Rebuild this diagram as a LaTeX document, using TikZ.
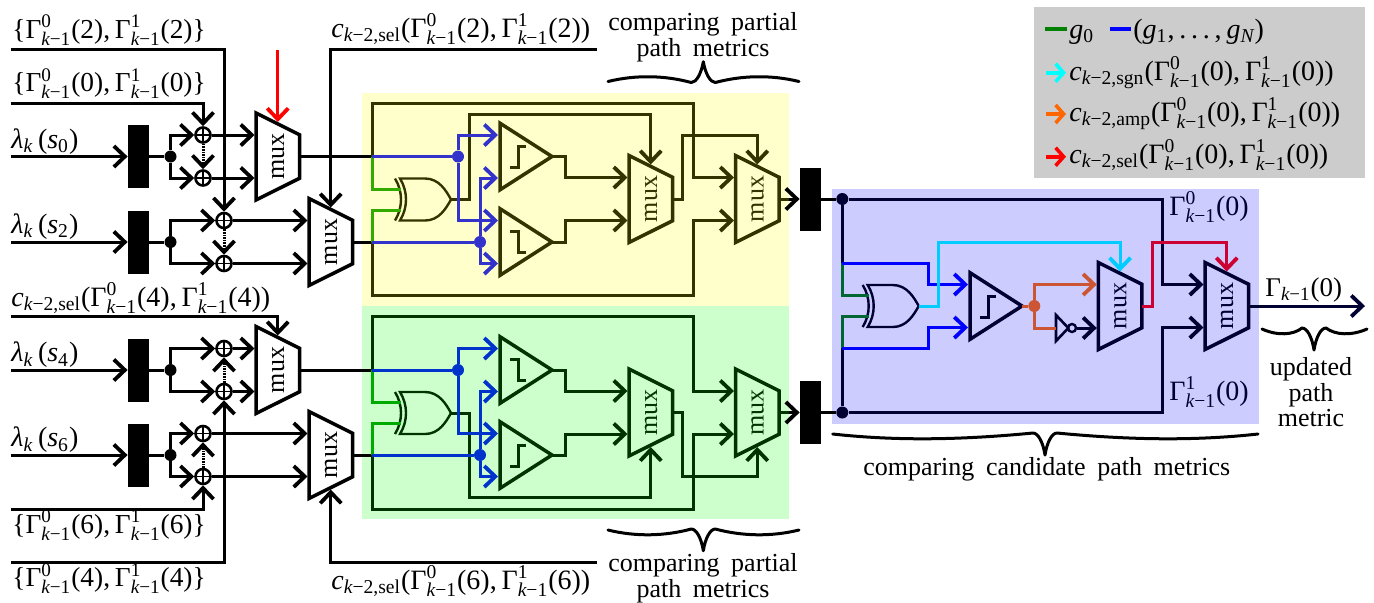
\documentclass[tikz,border=0pt]{standalone}
\usepackage[no-math]{fontspec}
\setmainfont{Liberation Serif}
\DeclareSymbolFont{operators}{TU}{\rmdefault}{m}{n}
\DeclareSymbolFont{letters}{TU}{\rmdefault}{m}{it}
\SetSymbolFont{operators}{bold}{TU}{\rmdefault}{m}{n}
\SetSymbolFont{letters}{bold}{TU}{\rmdefault}{m}{it}
\AtBeginDocument{%
 \Umathchardef\Gamma=0 \symoperators "0393
 \Umathchardef\lambda=0 \symletters "03BB
 \Umathchardef\lbr=4 \symoperators `\{
 \Umathchardef\rbr=5 \symoperators `\}
 \Umathcode`,="6 \symoperators `,
 \Umathcode`.="0 \symoperators `.
 \Umathcode`-="2 \symoperators "2212
 \Umathcode`(="4 \symoperators `(
 \Umathcode`)="5 \symoperators `)
 \Umathcode`0="0 \symoperators `0 \Umathcode`1="0 \symoperators `1 \Umathcode`2="0 \symoperators `2
 \Umathcode`4="0 \symoperators `4 \Umathcode`6="0 \symoperators `6
}
\usetikzlibrary{arrows.meta}
\definecolor{colYl}{HTML}{333300}\definecolor{colYb}{HTML}{3333CC}\definecolor{colYg}{HTML}{33AA00}
\definecolor{colGl}{HTML}{003300}\definecolor{colGb}{HTML}{0033CC}\definecolor{colGg}{HTML}{00AA00}
\definecolor{colBl}{HTML}{000033}\definecolor{colBb}{HTML}{0000FF}\definecolor{colBg}{HTML}{006633}
\definecolor{colCy}{HTML}{00CCFF}\definecolor{colOr}{HTML}{CC5533}\definecolor{colRd}{HTML}{CC0033}
\definecolor{panY}{HTML}{FFFFCC}\definecolor{panG}{HTML}{CCFFCC}\definecolor{panB}{HTML}{CCCCFF}\definecolor{panL}{HTML}{CCCCCC}
\definecolor{legG}{HTML}{008000}\definecolor{legC}{HTML}{00FFFF}\definecolor{legO}{HTML}{FF6600}\definecolor{legR}{HTML}{FF0000}
\tikzset{
 wire/.style={line width=1.5pt,line join=miter},
 arr/.style={wire,-{Straight Barb[length=5.5pt,width=10.5pt,line width=1.9pt]}},
 darr/.style={arr,dash pattern=on 0.8pt off 0.5pt},
 muxline/.style={line width=1.75pt,line join=miter},
 muxlabel/.style={rotate=90,inner sep=0pt,font=\fontsize{13}{13}\selectfont},
 label/.style={anchor=base west,inner sep=0pt,font=\fontsize{14}{14}\selectfont},
 sublabel/.style={label,font=\fontsize{13.7}{14}\selectfont},
 tlabel/.style={label,font=\fontsize{13}{13}\selectfont},
 clabel/.style={align=center,inner sep=0pt,font=\fontsize{13}{10.8}\selectfont},
 blackbox/.style={fill=black,draw=none,minimum width=10.5pt,minimum height=31.5pt,inner sep=0pt},
 jdot/.style={circle,fill=black,draw=none,minimum size=6pt,inner sep=0pt},
 adder/.style={circle,draw=black,line width=1.3pt,minimum size=7.5pt,inner sep=0pt,
   path picture={\draw[line width=0.9pt] (path picture bounding box.north)--(path picture bounding box.south)
   (path picture bounding box.west)--(path picture bounding box.east);}},
 bracel/.style={line width=1.5pt,line join=round,line cap=round},
 legarr/.style={line width=1.8pt,-{Straight Barb[length=4pt,width=9pt]}},
}
\newcommand{\muxn}[4]{%
 \node[muxlabel,text=#4] (#1) at (#2+22,#3) {mux};
 \draw[muxline,draw=#4] (#2,#3-43.5) -- (#2+43.5,#3-21.8) -- (#2+43.5,#3+21.8) -- (#2,#3+43.5) -- cycle;
 \coordinate (#1-a) at (#2-1.5,#3-21.5);
 \coordinate (#1-b) at (#2-1.5,#3+21.5);
 \coordinate (#1-o) at (#2+43.5,#3);
 \coordinate (#1-t) at (#2+21.75,#3-34.5);
 \coordinate (#1-u) at (#2+21.75,#3+34.5);
}
\newcommand{\cmpn}[5]{%
 \draw[muxline,draw=#4] (#2,#3-33.3) -- (#2+52,#3) -- (#2,#3+33.3) -- cycle;
 \draw[wire,draw=#4] (#2+10,#3+#5*11) -- (#2+18,#3+#5*11) -- (#2+18,#3-#5*10) -- (#2+26,#3-#5*10);
 \coordinate (#1-a) at (#2-2,#3-21.5);
 \coordinate (#1-b) at (#2-2,#3+21.5);
 \coordinate (#1-o) at (#2+52,#3);
}
\newcommand{\xorn}[4]{%
 \draw[line width=1.2pt,draw=#4] (#2,#3-21) .. controls (#2+8,#3-8) and (#2+8,#3+8) .. (#2,#3+21);
 \draw[line width=1.2pt,draw=#4] (#2+5,#3-21) .. controls (#2+13,#3-8) and (#2+13,#3+8) .. (#2+5,#3+21)
   -- (#2+30,#3+21) .. controls (#2+44,#3+21) and (#2+51,#3+9) .. (#2+56,#3)
   .. controls (#2+51,#3-9) and (#2+44,#3-21) .. (#2+30,#3-21) -- cycle;
 \coordinate (#1-a) at (#2+6,#3-10.5);
 \coordinate (#1-b) at (#2+6,#3+10.5);
 \coordinate (#1-o) at (#2+56,#3);
}
\newcommand{\bracen}[6]{%
 \draw[bracel] (#1,#4) .. controls ({#1+(#2-#1)*.3},#4+#6*7) and ({#2-(#2-#1)*.4},#4+#6*6) .. (#2-12,#4-#6*1)
  .. controls (#2-7,#4-#6*1) and (#2-2,#4+#6*8) .. (#2,#5)
  .. controls (#2+2,#4+#6*8) and (#2+7,#4-#6*1) .. (#2+12,#4-#6*1)
  .. controls ({#2+(#3-#2)*.4},#4+#6*6) and ({#3-(#3-#2)*.3},#4+#6*7) .. (#3,#4);
}
\newcommand{\Gm}[1]{\Gamma_{k-1}^{#1}}
\begin{document}
\begin{tikzpicture}[x=0.5pt,y=-0.5pt]
\useasboundingbox (0,0) rectangle (1374,602);
\fill[panY] (362,93) rectangle (789,306);
\fill[panG] (362,306) rectangle (789,519);
\fill[panB] (832.3,189) rectangle (1259,424);
\fill[panL] (1034,7.3) rectangle (1365,177.7);
\coordinate (inG2) at (11,49.5);
\coordinate (inG0) at (11,103);
\coordinate (inL0) at (11,156.5);
\coordinate (inL2) at (11,242);
\coordinate (inS4) at (11,316);
\coordinate (inL4) at (11,370);
\coordinate (inL6) at (11,455);
\coordinate (inG6) at (11,509);
\coordinate (inG4) at (11,562);
\coordinate (inS2) at (597,49.5);
\coordinate (inS6) at (597,562);
\coordinate (inR) at (277.75,50);
\coordinate (jy1) at (372,156.5);
\coordinate (jy2) at (372,242);
\coordinate (jg1) at (372,370);
\coordinate (jg2) at (372,455);
\coordinate (ey) at (789,199);
\coordinate (eg) at (789,412.5);
\coordinate (outR) at (1365,306);
\node[blackbox] (b0) at (138.5,156.5) {};
\node[blackbox] (b2) at (138.5,242) {};
\node[blackbox] (b4) at (138.5,370) {};
\node[blackbox] (b6) at (138.5,455) {};
\node[blackbox] (by) at (810.5,199) {};
\node[blackbox] (bg) at (810.5,412.5) {};
\node[jdot] (d0) at (170.5,156.5) {};
\node[jdot] (d2) at (170.5,242) {};
\node[jdot] (d4) at (170.5,370) {};
\node[jdot] (d6) at (170.5,455) {};
\node[adder] (c0a) at (203,135) {};
\node[adder] (c0b) at (203,178) {};
\node[adder] (c2a) at (224,220.5) {};
\node[adder] (c2b) at (224,263.5) {};
\node[adder] (c4a) at (224,348.5) {};
\node[adder] (c4b) at (224,391.5) {};
\node[adder] (c6a) at (203,433.5) {};
\node[adder] (c6b) at (203,476.5) {};
\node[jdot,fill=colYb] (dy1) at (458,156.5) {};
\node[jdot,fill=colYb] (dy2) at (480,242) {};
\node[jdot,fill=colGb] (dg1) at (458,370) {};
\node[jdot,fill=colGb] (dg2) at (480,455) {};
\node[jdot,fill=colBl] (dt) at (842.3,199) {};
\node[jdot,fill=colBl] (db) at (842.3,412.5) {};
\node[jdot,fill=colOr] (dr) at (1034.3,306) {};
\muxn{m1}{256}{156.5}{black}
\muxn{m2}{309}{242}{black}
\muxn{m3}{256}{370}{black}
\muxn{m4}{309}{455}{black}
\muxn{m5}{629}{199}{colYl}
\muxn{m6}{735.5}{199}{colYl}
\cmpn{cy1}{500}{156.5}{colYl}{1}
\cmpn{cy2}{500}{242}{colYl}{-1}
\xorn{xy}{395}{199.5}{colYl}
\muxn{m7}{629}{412.5}{colGl}
\muxn{m8}{735.5}{412.5}{colGl}
\cmpn{cg1}{500}{370}{colGl}{-1}
\cmpn{cg2}{500}{455}{colGl}{1}
\xorn{xg}{395}{413}{colGl}
\muxn{m9}{1098.3}{306}{colBl}
\muxn{m10}{1205}{306}{colBl}
\cmpn{cb}{970}{306}{colBl}{1}
\xorn{xb}{862.7}{306}{colBl}
\draw[wire,line width=1.3pt,draw=colBl] (1056,315) -- (1068.3,328) -- (1056,341) -- cycle;
\node[circle,draw=colBl,line width=1.2pt,minimum size=4pt,inner sep=0pt] (nb) at (1072,328) {};
\coordinate (notin) at (1056,328);
\draw[arr] (inG2) -| (c2a);
\draw[arr] (inG0) -| (c0a);
\draw[arr] (inL0) -- (b0);
\draw[arr] (inL2) -- (b2);
\draw[arr] (inL4) -- (b4);
\draw[arr] (inL6) -- (b6);
\draw[wire] (b0) -- (d0);\draw[wire] (b2) -- (d2);\draw[wire] (b4) -- (d4);\draw[wire] (b6) -- (d6);
\draw[arr] (d0) |- (c0a);\draw[arr] (d0) |- (c0b);
\draw[arr] (d2) |- (c2a);\draw[arr] (d2) |- (c2b);
\draw[arr] (d4) |- (c4a);\draw[arr] (d4) |- (c4b);
\draw[arr] (d6) |- (c6a);\draw[arr] (d6) |- (c6b);
\draw[darr] (c0a) -- (c0b);\draw[darr] (c2a) -- (c2b);
\draw[darr] (c4b) -- (c4a);\draw[darr] (c6b) -- (c6a);
\draw[arr] (c0a) -- (m1-a);\draw[arr] (c0b) -- (m1-b);
\draw[arr] (c2a) -- (m2-a);\draw[arr] (c2b) -- (m2-b);
\draw[arr] (c4a) -- (m3-a);\draw[arr] (c4b) -- (m3-b);
\draw[arr] (c6a) -- (m4-a);\draw[arr] (c6b) -- (m4-b);
\draw[arr] (inG6) -| (c6b);
\draw[arr] (inG4) -| (c4b);
\draw[arr] (inS4) -| (m3-t);
\draw[arr] (inS2) -| (m2-t);
\draw[arr] (inS6) -| (m4-u);
\draw[arr,draw=legR] (inR) -- (m1-t);
\draw[wire] (m1-o) -- (jy1);\draw[wire] (m2-o) -- (jy2);
\draw[wire] (m3-o) -- (jg1);\draw[wire] (m4-o) -- (jg2);
\draw[arr,draw=colYl] (jy1) |- (693,103) |- (m6-a);
\draw[arr,draw=colYl] (jy2) |- (693,295.7) |- (m6-b);
\draw[arr,draw=colYl] (xy-o) -| (469,114) -| (m5-t);
\draw[arr,draw=colYl] (cy1-o) -- (565.7,156.5) |- (m5-a);
\draw[arr,draw=colYl] (cy2-o) -- (565.7,242) |- (m5-b);
\draw[arr,draw=colYl] (m5-o) -| (682.7,135) -| (m6-t);
\draw[wire,draw=colYl] (m6-o) -- (ey);
\draw[arr] (ey) -- (by);
\draw[wire,draw=colYg] (jy1) |- (xy-a);
\draw[wire,draw=colYg] (jy2) |- (xy-b);
\draw[wire,draw=colYb] (jy1) -- (dy1);
\draw[wire,draw=colYb] (jy2) -- (dy2);
\draw[arr,draw=colYb] (dy1) |- (cy1-a);
\draw[arr,draw=colYb] (dy1) |- (cy2-a);
\draw[arr,draw=colYb] (dy2) |- (cy1-b);
\draw[arr,draw=colYb] (dy2) |- (cy2-b);
\draw[arr,draw=colGl] (jg1) |- (693,316.7) |- (m8-a);
\draw[arr,draw=colGl] (jg2) |- (693,509) |- (m8-b);
\draw[arr,draw=colGl] (xg-o) -| (469,497.7) -| (m7-u);
\draw[arr,draw=colGl] (cg1-o) -- (565.7,370) |- (m7-a);
\draw[arr,draw=colGl] (cg2-o) -- (565.7,455) |- (m7-b);
\draw[arr,draw=colGl] (m7-o) -| (682.7,476.7) -| (m8-u);
\draw[wire,draw=colGl] (m8-o) -- (eg);
\draw[arr] (eg) -- (bg);
\draw[wire,draw=colGg] (jg1) |- (xg-a);
\draw[wire,draw=colGg] (jg2) |- (xg-b);
\draw[wire,draw=colGb] (jg1) -- (dg1);
\draw[wire,draw=colGb] (jg2) -- (dg2);
\draw[arr,draw=colGb] (dg1) |- (cg1-a);
\draw[arr,draw=colGb] (dg1) |- (cg2-a);
\draw[arr,draw=colGb] (dg2) |- (cg1-b);
\draw[arr,draw=colGb] (dg2) |- (cg2-b);
\coordinate (vb1) at (842.3,263.3);
\coordinate (vb2) at (842.3,348.3);
\draw[wire] (by) -- (dt);\draw[wire] (bg) -- (db);
\draw[wire,draw=colBl] (dt) -- (vb1);
\draw[wire,draw=colBl] (db) -- (vb2);
\draw[wire,draw=colBg] (vb1) |- (xb-a);
\draw[wire,draw=colBg] (vb2) |- (xb-b);
\draw[arr,draw=colBl] (dt) -| (1162.3,284.5) -- (m10-a);
\draw[arr,draw=colBl] (db) -| (1162.3,327.5) -- (m10-b);
\draw[arr,draw=colBb] (vb1) -| (928.3,284.5) -- (cb-a);
\draw[arr,draw=colBb] (vb2) -| (928.3,327.5) -- (cb-b);
\draw[arr,draw=colCy] (xb-o) -| (938.3,242.3) -| (m9-t);
\draw[wire,draw=colOr] (cb-o) -- (dr);
\draw[arr,draw=colOr] (dr) |- (m9-a);
\draw[wire,draw=colOr] (dr) |- (notin);
\draw[arr,draw=colBl] (nb) -- (m9-b |- nb);
\draw[arr,draw=colRd] (m9-o) -| (1152.7,242.3) -| (m10-t);
\draw[arr,draw=colBl] (m10-o) -- (outR);
\bracen{608}{703.3}{799}{81.5}{61.7}{-1}
\bracen{608}{703.3}{799}{530}{550.7}{1}
\bracen{832.7}{1045}{1258}{434}{455}{1}
\bracen{1262}{1314}{1367}{329}{350}{1}
\node[sublabel] (lG2) at (12,38.3) {$\lbr\Gm{0}(2),\Gm{1}(2)\rbr$};
\node[sublabel] (lG0) at (12,91.8) {$\lbr\Gm{0}(0),\Gm{1}(0)\rbr$};
\node[label] (lL0) at (11,148) {$\lambda_k\,(s_0)$};
\node[label] (lL2) at (11,233.5) {$\lambda_k\,(s_2)$};
\node[label] (lS4) at (11,306) {$c_{k-2,\mathrm{sel}}(\Gm{0}(4),\Gm{1}(4))$};
\node[label] (lL4) at (11,361.7) {$\lambda_k\,(s_4)$};
\node[label] (lL6) at (11,446.7) {$\lambda_k\,(s_6)$};
\node[sublabel] (lG6) at (12,533) {$\lbr\Gm{0}(6),\Gm{1}(6)\rbr$};
\node[sublabel] (lG4) at (12,586.7) {$\lbr\Gm{0}(4),\Gm{1}(4)\rbr$};
\node[label] (lS2) at (331,37.3) {$c_{k-2,\mathrm{sel}}(\Gm{0}(2),\Gm{1}(2))$};
\node[label] (lS6) at (331,589.3) {$c_{k-2,\mathrm{sel}}(\Gm{0}(6),\Gm{1}(6))$};
\node[clabel] (tP1) at (703,37.5) {\spaceskip=5.8pt comparing partial\\\spaceskip=5.8pt path metrics};
\node[clabel] (tP2) at (703,578) {\spaceskip=5.8pt comparing partial\\\spaceskip=5.8pt path metrics};
\node[tlabel,anchor=base] (tC) at (1046.7,475) {\spaceskip=5.8pt comparing candidate path metrics};
\node[clabel] (tU) at (1311,392) {updated\\path\\metric};
\node[label,text=colBl] (lT0) at (1169,215) {$\Gm{0}(0)$};
\node[label,text=colBl] (lT1) at (1169,400) {$\Gm{1}(0)$};
\node[label,font=\fontsize{13.5}{14}\selectfont] (lOut) at (1265,296) {$\Gamma_{k-1}(0)$};
\coordinate (lgs1) at (1045,28.7);\coordinate (lge1) at (1067,28.7);
\coordinate (lgs2) at (1110,28.7);\coordinate (lge2) at (1131,28.7);
\draw[line width=1.8pt,draw=legG] (lgs1) -- (lge1);
\draw[line width=1.8pt,draw=colBb] (lgs2) -- (lge2);
\node[label] (lg0) at (1069,38) {$g_0$};
\node[label] (lgN) at (1133,38) {$(g_1,.\,.\,.\,,g_N)$};
\coordinate (la1) at (1046,72.7);\coordinate (la2) at (1046,114);\coordinate (la3) at (1046,156.7);
\coordinate (lb1) at (1066,72.7);\coordinate (lb2) at (1066,114);\coordinate (lb3) at (1066,156.7);
\draw[legarr,draw=legC] (la1) -- (lb1);
\draw[legarr,draw=legO] (la2) -- (lb2);
\draw[legarr,draw=legR] (la3) -- (lb3);
\node[label] (l1) at (1069,80) {$c_{k-2,\mathrm{sgn}}(\Gm{0}(0),\Gm{1}(0))$};
\node[label] (l2) at (1069,121) {$c_{k-2,\mathrm{amp}}(\Gm{0}(0),\Gm{1}(0))$};
\node[label] (l3) at (1069,163) {$c_{k-2,\mathrm{sel}}(\Gm{0}(0),\Gm{1}(0))$};
\end{tikzpicture}
\end{document}
